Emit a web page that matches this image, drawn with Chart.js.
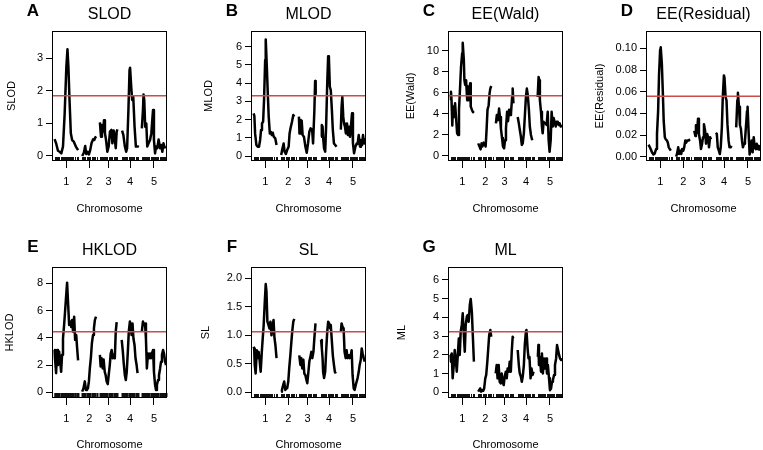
<!DOCTYPE html>
<html>
<head>
<meta charset="utf-8">
<script src="https://cdn.jsdelivr.net/npm/chart.js@4.4.1/dist/chart.umd.min.js"></script>
<style>
  html, body { margin: 0; padding: 0; background: #fff; }
  body { width: 763px; height: 450px; position: relative; overflow: hidden; }
  canvas { position: absolute; }
</style>
</head>
<body>
<script>
// chromosome labels and marker positions (genome position, cM-like units)
const chromNames = ['1', '2', '3', '4', '5'];
const markers = [
  [14, 18, 24, 29, 33, 40, 46, 52, 55, 61, 66, 72, 76, 80, 86, 90, 97, 103, 108, 115, 121, 126, 133, 140],
  [162, 167, 173, 178, 186, 192, 199, 205, 212, 219, 226, 232, 239],
  [257, 262, 268, 273, 279, 286, 291, 297, 304, 310, 317, 323, 330, 337, 344, 351],
  [376, 381, 387, 393, 399, 405, 411, 417, 423, 430, 436, 442, 449, 455, 461],
  [482, 487, 493, 499, 505, 511, 517, 523, 529, 535, 541, 547, 553, 559, 565, 571, 577, 583, 589, 595, 601, 607, 612]
];

// ---- profiles, one list of [position, value] per chromosome ----
const slod = [
  [[14,.52],[23,.37],[32,.16],[41,.13],[50,.08],[59,.29],[68,1.31],[77,2.74],[83,3.28],[88,2.74],[94,1.72],[101,.7],[108,.49],[117,.44],[128,.29],[140,.18]],
  [[162,0],[171,.1],[178,.31],[184,.06],[191,.13],[198,.05],[205,.18],[212,.39],[220,.51],[227,.49],[232,.57],[239,.59]],
  [[257,1.03],[263,.59],[268,.95],[274,.75],[279,1.1],[284,.7],[290,.49],[297,.13],[304,.29],[311,.75],[319,.8],[324,.39],[331,.78],[336,.59],[342,.24],[347,.75],[351,.82]],
  [[376,.78],[383,.64],[391,.29],[398,.13],[403,.24],[410,1.41],[416,2.64],[419,2.71],[425,2.13],[430,1.72],[436,1.82],[443,.9],[450,.29],[457,.29],[461,.32]],
  [[482,.85],[488,1.41],[491,1.89],[495,1.72],[500,.9],[506,1.0],[511,.29],[518,.39],[526,.49],[533,.7],[538,1.1],[542,1.41],[547,.49],[553,.08],[558,.29],[565,.24],[572,.51],[580,.24],[587,.34],[592,.13],[598,.39],[603,.29],[610,.24]]
];
const mlod = [
  [[14,2.34],[18,2.2],[22,1.24],[29,.6],[36,.51],[43,.51],[49,.88],[54,1.43],[59,1.79],[65,1.88],[70,3.07],[76,5.27],[79,6.4],[85,4.9],[90,3.44],[95,2.16],[101,1.24],[106,1.33],[112,1.15],[117,1.28],[122,1.06],[130,.97],[137,.6]],
  [[162,.05],[167,.33],[175,.69],[180,.24],[187,.11],[194,.33],[202,.51],[207,1.24],[212,1.52],[220,1.88],[227,2.25],[232,2.16]],
  [[257,2.16],[260,1.24],[263,1.97],[267,1.24],[272,1.94],[277,1.15],[284,1.06],[292,.51],[299,.18],[306,.69],[313,1.33],[320,1.52],[328,1.43],[333,.69],[340,2.5],[344,4.12],[347,3.4]],
  [[376,1.06],[380,1.7],[384,1.61],[388,.88],[392,.42],[398,.24],[403,1.61],[409,3.99],[414,5.48],[418,5.36],[423,3.8],[428,3.62],[434,2.52],[439,1.43],[445,.69],[452,.6],[459,.51]],
  [[482,1.45],[486,2.7],[490,3.25],[495,2.16],[499,1.79],[504,1.61],[509,1.24],[515,1.79],[520,1.15],[526,1.61],[531,1.06],[536,1.61],[542,2.34],[547,.69],[553,.15],[560,.51],[567,.69],[572,.66],[578,1.15],[585,.51],[590,.88],[596,.6],[601,1.15],[607,.69],[612,.97]]
];
const eeWald = [
  [[14,5.3],[16,6.1],[19,5.3],[23,2.9],[27,4.7],[32,3.7],[38,5.0],[43,3.7],[49,2.15],[54,2.0],[59,4.4],[65,6.6],[70,8.5],[76,9.75],[79,10.75],[85,9.1],[88,7.2],[92,6.75],[97,7.2],[103,5.3],[106,6.6],[110,5.3],[113,6.25],[119,6.9],[122,4.7],[128,4.4],[133,4.2],[139,4.1]],
  [[162,1.2],[169,.9],[175,.63],[180,1.2],[185,.9],[191,1.27],[196,1.2],[202,.9],[207,2.5],[212,4.4],[218,4.8],[223,5.95],[227,6.4],[232,6.65]],
  [[257,3.1],[262,3.9],[268,3.4],[274,4.5],[279,3.7],[284,2.6],[290,1.7],[295,.9],[301,.73],[306,1.5],[311,2.6],[317,4.2],[322,3.3],[328,4.4],[333,3.9],[338,4.05],[344,5.6],[347,6.4],[351,5.0]],
  [[374,3.7],[380,3.1],[385,2.5],[391,1.85],[396,1.05],[401,1.2],[407,2.15],[412,3.7],[418,5.6],[423,6.4],[428,5.8],[434,4.4],[439,2.8],[445,2.0],[452,1.5]],
  [[481,5.6],[486,7.5],[490,7.2],[493,5.3],[499,4.2],[504,2.8],[508,2.15],[513,3.25],[518,3.1],[524,3.1],[529,2.95],[535,4.2],[540,1.5],[545,.4],[551,1.5],[556,4.2],[562,2.8],[567,3.6],[572,3.25],[578,2.8],[583,3.25],[589,3.25],[594,2.95],[599,3.1],[605,2.8],[610,2.95]]
];
const eeResidual = [
  [[13,.011],[20,.009],[25,.007],[32,.004],[40,.002],[47,.003],[54,.007],[59,.021],[65,.042],[70,.076],[76,.099],[79,.101],[85,.086],[90,.061],[95,.033],[101,.018],[106,.016],[112,.015],[117,.013],[122,.0086],[128,.007],[133,.0055]],
  [[162,0],[167,.003],[173,.0086],[178,.0025],[184,.0055],[189,.0025],[194,.007],[200,.0055],[205,.0086],[211,.015],[216,.013],[221,.015],[229,.015],[236,.016]],
  [[259,.024],[265,.019],[268,.029],[274,.022],[279,.035],[284,.021],[290,.015],[295,.007],[301,.012],[306,.018],[311,.030],[317,.024],[322,.012],[328,.021],[333,.018],[338,.0086],[344,.018],[349,.016]],
  [[374,.022],[380,.021],[385,.0086],[391,.0055],[396,.0025],[401,.0086],[407,.027],[412,.055],[418,.075],[421,.073],[427,.055],[432,.052],[437,.030],[443,.015],[448,.0086],[454,.0086],[459,.01]],
  [[484,.027],[490,.052],[493,.059],[499,.046],[504,.029],[509,.026],[515,.015],[520,.0086],[526,.012],[531,.015],[536,.027],[542,.042],[545,.046],[551,.021],[556,.002],[562,.0086],[567,.015],[572,.004],[578,.018],[583,.0086],[589,.007],[594,.012],[599,.007],[605,.01],[610,.0055]]
];
const hklod = [
  [[14,3.1],[16,2.5],[22,1.4],[27,3.1],[32,2.0],[38,3.0],[43,2.4],[49,1.5],[54,2.75],[59,3.95],[65,4.95],[70,5.9],[76,7.1],[81,8.05],[86,6.65],[92,4.95],[97,5.2],[103,4.8],[108,5.3],[113,4.45],[119,5.55],[124,3.85],[130,4.2],[135,3.2],[140,2.35]],
  [[162,.05],[169,.3],[176,.8],[182,.17],[187,.17],[193,.3],[198,.8],[203,1.75],[209,2.6],[214,3.6],[220,4.2],[225,4.7],[230,5.3],[236,5.55]],
  [[257,2.75],[261,1.9],[266,2.5],[272,1.75],[277,2.4],[283,1.5],[288,1.25],[293,.8],[299,.6],[304,1.25],[310,2.0],[315,2.85],[320,3.1],[326,2.5],[331,2.75],[337,2.5],[342,4.45],[347,5.15]],
  [[374,3.85],[380,3.0],[385,2.1],[391,1.25],[396,.9],[401,1.5],[407,3.0],[412,4.45],[418,5.2],[423,4.95],[427,4.2],[432,5.05],[437,3.95],[443,3.45],[448,2.5],[454,2.0],[459,1.4]],
  [[482,4.45],[488,5.2],[493,4.95],[499,5.05],[504,3.95],[509,1.75],[515,2.85],[520,2.5],[526,2.85],[531,2.5],[536,2.85],[542,3.1],[547,1.5],[553,.55],[558,.17],[563,.55],[569,.9],[574,1.25],[580,1.75],[585,2.25],[590,2.75],[596,3.1],[601,2.85],[607,2.25],[612,2.0]]
];
const sl = [
  [[14,.8],[17,.77],[20,.48],[25,.33],[31,.74],[36,.6],[41,.71],[47,.54],[52,.36],[58,.71],[63,.95],[68,1.18],[74,1.59],[79,1.9],[83,1.77],[88,1.24],[94,1.18],[99,1.12],[104,1.24],[110,1.0],[115,1.15],[121,1.27],[126,.95],[131,.83],[137,.6]],
  [[162,.01],[166,.04],[173,.13],[178,.19],[184,.04],[189,.07],[194,.07],[200,.19],[205,.42],[211,.65],[216,.86],[221,1.06],[227,1.24],[232,1.29]],
  [[259,.65],[265,.48],[270,.6],[275,.42],[281,.57],[286,.33],[292,.3],[297,.22],[302,.16],[308,.36],[313,.54],[319,.63],[324,.71],[329,.6],[335,.71],[340,.95],[346,1.21]],
  [[376,.92],[380,.77],[384,.6],[387,.36],[392,.25],[398,.36],[403,.71],[409,1.06],[414,1.24],[419,1.21],[425,1.12],[428,1.18],[434,.89],[439,.65],[445,.48],[450,.36],[455,.33]],
  [[482,1.06],[486,1.21],[491,1.15],[497,1.12],[502,.71],[508,.6],[513,.74],[518,.6],[524,.65],[529,.6],[535,.65],[540,.74],[545,.3],[551,.07],[556,.04],[562,.13],[567,.19],[572,.25],[578,.36],[583,.48],[589,.57],[594,.77],[599,.68],[605,.6],[610,.54]]
];
const ml = [
  [[14,2.0],[16,1.64],[20,2.08],[25,.75],[31,1.46],[36,2.26],[41,1.81],[47,1.1],[52,1.9],[58,2.88],[63,2.0],[68,3.24],[74,3.6],[79,4.22],[85,3.06],[90,2.17],[95,3.6],[101,4.04],[106,4.13],[111,3.77],[117,4.66],[122,4.98],[128,4.3],[133,3.06],[139,1.64]],
  [[162,.04],[167,.12],[173,.21],[178,.04],[185,.12],[189,.09],[194,.21],[200,.75],[205,.93],[211,1.64],[216,2.35],[221,3.06],[227,3.33],[232,2.97]],
  [[256,1.01],[261,1.46],[266,.75],[272,1.46],[277,.57],[283,.48],[288,1.01],[293,.57],[299,.39],[304,.84],[310,1.1],[315,.75],[320,1.28],[326,1.1],[331,1.64],[337,1.1],[342,2.17],[347,2.97],[351,2.88]],
  [[374,2.26],[380,1.46],[385,1.01],[391,.84],[396,.57],[401,.84],[407,1.46],[412,2.53],[418,3.24],[421,3.33],[427,2.35],[432,1.81],[437,1.9],[443,.75],[448,1.28],[454,.93],[459,1.1]],
  [[482,1.9],[485,2.53],[488,1.46],[493,1.9],[499,1.1],[504,2.08],[509,1.01],[515,1.81],[520,1.28],[526,1.81],[531,1.01],[536,1.46],[542,.75],[547,.12],[553,.21],[558,.57],[563,.66],[569,.93],[574,1.46],[580,1.81],[585,2.53],[590,2.53],[596,2.0],[601,1.81],[607,1.73],[612,1.81]]
];

const panelSeries = [slod, mlod, eeWald, eeResidual, hklod, sl, ml];
const panelTitles = ['SLOD', 'MLOD', 'EE(Wald)', 'EE(Residual)', 'HKLOD', 'SL', 'ML'];
const panelLetters = ['A', 'B', 'C', 'D', 'E', 'F', 'G'];
const thresholds = [1.85, 3.31, 5.73, 0.0557, 4.45, 1.064, 3.24];
const yTicks = [
  [0, 1, 2, 3],
  [0, 1, 2, 3, 4, 5, 6],
  [0, 2, 4, 6, 8, 10],
  [0, 0.02, 0.04, 0.06, 0.08, 0.10],
  [0, 2, 4, 6, 8],
  [0, 0.5, 1, 1.5, 2],
  [0, 1, 2, 3, 4, 5, 6]
];
const yDecimals = [0, 0, 0, 2, 0, 1, 0];
const yRanges = [[-0.154, 3.84], [-0.274, 6.86], [-0.475, 11.87], [-0.004, 0.116], [-0.42, 9.2], [-0.1, 2.2], [-0.3, 6.69]];

// page placement of each panel (frame left edge, row)
const frames = [
  { left: 52, row: 0, yPad: 6 }, { left: 251, row: 0, yPad: 4 },
  { left: 448, row: 0, yPad: 9 }, { left: 646, row: 0, yPad: 0 },
  { left: 52, row: 1, yPad: 4 }, { left: 251, row: 1, yPad: 1 },
  { left: 448, row: 1, yPad: 0 }
];
const rows = [
  { top: 0, height: 220, areaTop: 31, axisH: 59, titlePad: 6 },
  { top: 225, height: 225, areaTop: 42, axisH: 52, titlePad: 0 }
];

const FONT = 'Liberation Sans, Arial, Helvetica, sans-serif';
const chromMids = markers.map(m => (m[0] + m[m.length - 1]) / 2);
const xMin = 0, xMax = 617;

// frame, rug, panel letter and title
const panelDecor = {
  id: 'panelDecor',
  afterDatasetsDraw(chart, args, opts) {
    const { ctx, chartArea: a, scales: { x } } = chart;
    ctx.save();
    ctx.strokeStyle = '#111';
    ctx.lineWidth = opts.rugWidth;
    markers.flat().forEach(m => {
      const px = Math.round(x.getPixelForValue(m)) + 0.5;
      ctx.beginPath();
      ctx.moveTo(px, a.bottom - 1);
      ctx.lineTo(px, a.bottom - 1 - opts.rugLen);
      ctx.stroke();
    });
    ctx.strokeStyle = '#000';
    ctx.lineWidth = 1;
    ctx.strokeRect(a.left + 0.5, a.top + 0.5, a.right - a.left - 1, a.bottom - a.top - 1);
    ctx.fillStyle = '#000';
    ctx.textAlign = 'center';
    ctx.textBaseline = 'middle';
    ctx.font = 'bold 17px ' + FONT;
    ctx.fillText(opts.letter, a.left - 19, a.top - 20);
    ctx.font = '16px ' + FONT;
    ctx.fillText(opts.title, (a.left + a.right) / 2, a.top - 16);
    ctx.restore();
  }
};

function toLine(chroms) {
  const pts = [];
  chroms.forEach((c, i) => {
    if (i > 0) pts.push({ x: (chroms[i - 1][chroms[i - 1].length - 1][0] + c[0][0]) / 2, y: null });
    c.forEach(p => pts.push({ x: p[0], y: p[1] }));
  });
  return pts;
}

panelSeries.forEach((series, i) => {
  const f = frames[i], r = rows[f.row];
  const cv = document.createElement('canvas');
  cv.width = 169;
  cv.height = r.height;
  cv.style.left = (f.left - 52) + 'px';
  cv.style.top = r.top + 'px';
  document.body.appendChild(cv);

  new Chart(cv, {
    type: 'line',
    data: {
      datasets: [
        {
          data: [{ x: xMin, y: thresholds[i] }, { x: xMax, y: thresholds[i] }],
          borderColor: '#cc4b4b',
          borderWidth: 1.5,
          pointRadius: 0
        },
        {
          data: toLine(series),
          borderColor: '#000',
          borderWidth: 2.5,
          pointRadius: 0,
          spanGaps: false,
          tension: 0,
          borderJoinStyle: 'round'
        }
      ]
    },
    options: {
      responsive: false,
      animation: false,
      events: [],
      layout: { padding: { top: r.areaTop, right: 2, left: 0, bottom: 0 } },
      plugins: {
        legend: { display: false },
        tooltip: { enabled: false },
        panelDecor: { letter: panelLetters[i], title: panelTitles[i], rugWidth: i === 4 ? 2 : 1, rugLen: i === 4 ? 4 : 3 }
      },
      scales: {
        x: {
          type: 'linear',
          min: xMin,
          max: xMax,
          border: { display: false },
          grid: { display: true, drawOnChartArea: false, drawTicks: true, tickLength: 7, color: '#000' },
          afterBuildTicks: s => { s.ticks = chromMids.map(v => ({ value: v })); },
          afterFit: s => { s.height = r.axisH; },
          ticks: {
            autoSkip: false, maxRotation: 0, padding: 7, color: '#000',
            font: { family: FONT, size: 11 },
            callback: (v, idx) => chromNames[idx]
          },
          title: {
            display: true, text: 'Chromosome', color: '#000',
            font: { family: FONT, size: 11, lineHeight: 1 },
            padding: { top: 0, bottom: r.titlePad }
          }
        },
        y: {
          min: yRanges[i][0],
          max: yRanges[i][1],
          border: { display: false },
          grid: { display: true, drawOnChartArea: false, drawTicks: true, tickLength: 6, color: '#000' },
          afterBuildTicks: s => { s.ticks = yTicks[i].map(v => ({ value: v })); },
          afterFit: s => { s.width = 52; },
          ticks: {
            padding: 3, color: '#000',
            font: { family: FONT, size: 11 },
            callback: v => Number(v).toFixed(yDecimals[i])
          },
          title: {
            display: true, text: panelTitles[i], color: '#000',
            font: { family: FONT, size: 11, lineHeight: 1 },
            padding: { top: f.yPad, bottom: 0 }
          }
        }
      }
    },
    plugins: [panelDecor]
  });
});
</script>
</body>
</html>
